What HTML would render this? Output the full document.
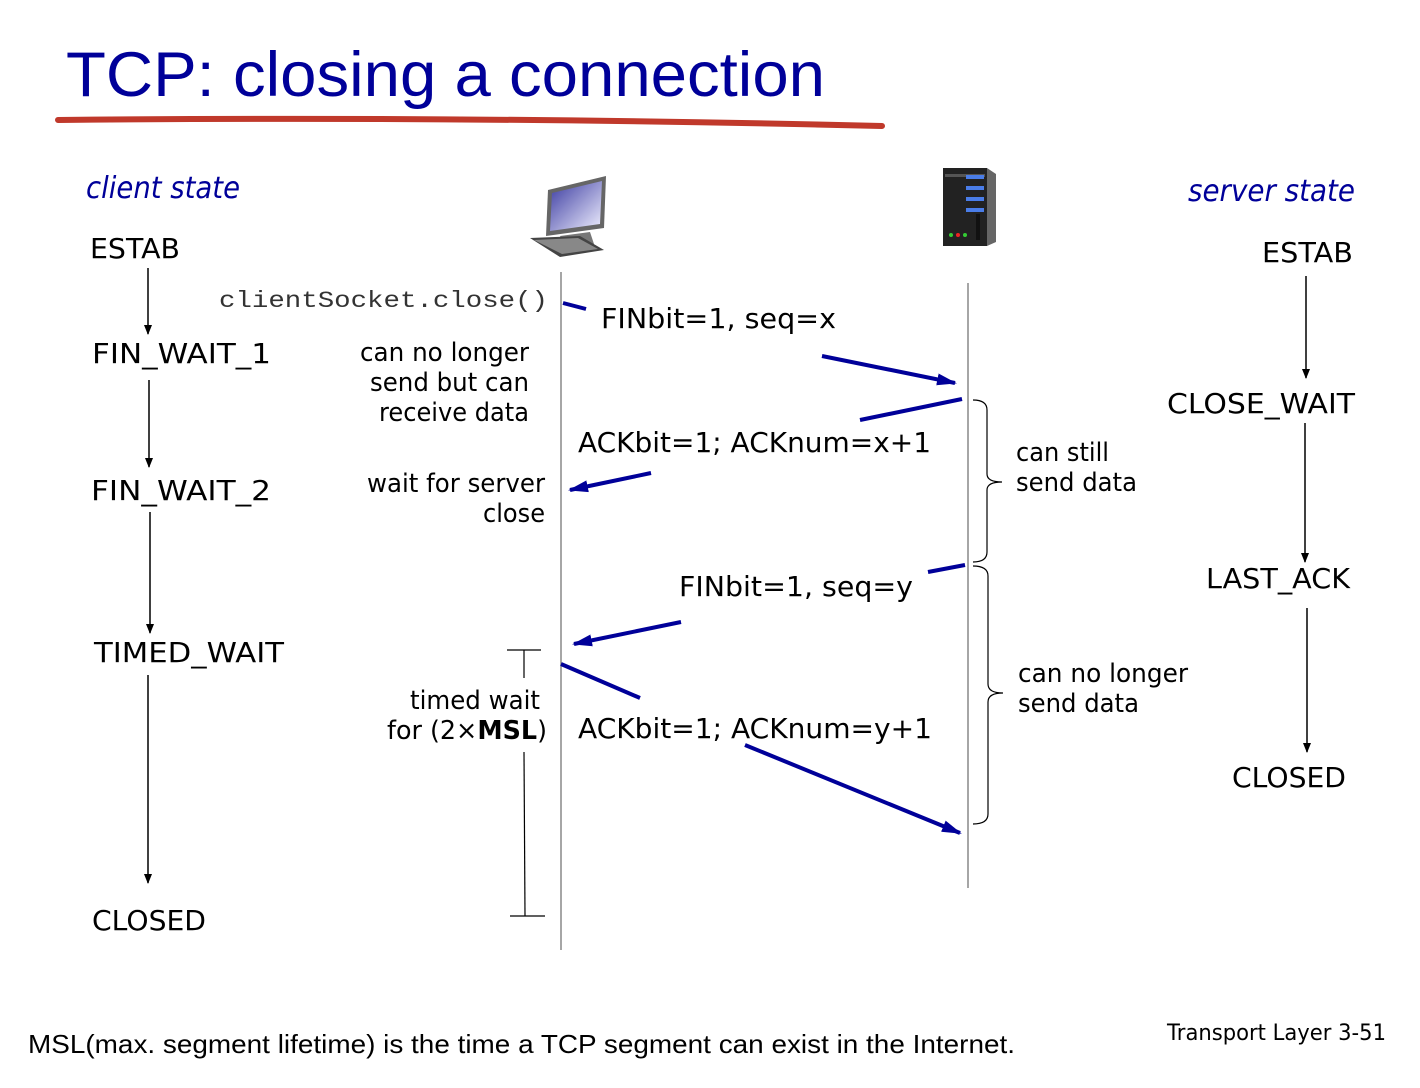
<!DOCTYPE html>
<html><head><meta charset="utf-8"><style>
html,body{margin:0;padding:0;background:#fff;}
svg{display:block;}
text{font-family:"DejaVu Sans","Liberation Sans",sans-serif;}
</style></head><body>
<svg width="1420" height="1088" viewBox="0 0 1420 1088" xmlns="http://www.w3.org/2000/svg">
<defs>
<marker id="ab" markerWidth="10" markerHeight="8" refX="9" refY="4" orient="auto" markerUnits="userSpaceOnUse"><path d="M0,0 L10,4 L0,8 z" fill="#000"/></marker>
<marker id="an" markerWidth="20" markerHeight="12" refX="18" refY="6" orient="auto" markerUnits="userSpaceOnUse"><path d="M0,0 L20,6 L0,12 z" fill="#000099"/></marker>
<linearGradient id="scr" x1="0" y1="0" x2="1" y2="1"><stop offset="0" stop-color="#3a3aa0"/><stop offset="1" stop-color="#f0f0ff"/></linearGradient>
</defs>
<text x="66" y="96" font-size="63" fill="#000099" textLength="759" lengthAdjust="spacingAndGlyphs" style="font-family:'Liberation Sans',sans-serif">TCP: closing a connection</text>
<path d="M58,120 Q470,116 882,126" stroke="#c0392b" stroke-width="6" fill="none" stroke-linecap="round"/>

<text x="86" y="198" font-size="30" fill="#000099" font-style="italic" textLength="154" lengthAdjust="spacingAndGlyphs">client state</text>
<text x="1188" y="201" font-size="30" fill="#000099" font-style="italic" textLength="167" lengthAdjust="spacingAndGlyphs">server state</text>

<g font-size="28" fill="#000" lengthAdjust="spacingAndGlyphs">
<text x="90" y="258" textLength="90" lengthAdjust="spacingAndGlyphs">ESTAB</text>
<text x="92" y="363" textLength="179" lengthAdjust="spacingAndGlyphs">FIN_WAIT_1</text>
<text x="91" y="500" textLength="180" lengthAdjust="spacingAndGlyphs">FIN_WAIT_2</text>
<text x="94" y="662" textLength="190" lengthAdjust="spacingAndGlyphs">TIMED_WAIT</text>
<text x="92" y="930" textLength="114" lengthAdjust="spacingAndGlyphs">CLOSED</text>
<text x="1262" y="262" textLength="91" lengthAdjust="spacingAndGlyphs">ESTAB</text>
<text x="1167" y="413" textLength="188" lengthAdjust="spacingAndGlyphs">CLOSE_WAIT</text>
<text x="1206" y="588" textLength="144" lengthAdjust="spacingAndGlyphs">LAST_ACK</text>
<text x="1232" y="787" textLength="114" lengthAdjust="spacingAndGlyphs">CLOSED</text>
</g>
<g stroke="#000" stroke-width="1.5" marker-end="url(#ab)">
<line x1="148" y1="268" x2="148" y2="334"/>
<line x1="149" y1="380" x2="149" y2="467"/>
<line x1="150" y1="512" x2="150" y2="633"/>
<line x1="148" y1="675" x2="148" y2="883"/>
<line x1="1306" y1="276" x2="1306" y2="378"/>
<line x1="1305" y1="423" x2="1305" y2="562"/>
<line x1="1307" y1="608" x2="1307" y2="752"/>
</g>

<!-- computer -->
<g>
<polygon points="548,190 606,176 604,228 546,236" fill="#666"/>
<polygon points="552,193 602,181 600,224 550,231" fill="url(#scr)"/>
<polygon points="560,236 590,232 594,244 566,248" fill="#777"/>
<polygon points="530,238 580,236 604,250 560,257" fill="#444"/>
<polygon points="534,240 578,238 598,249 562,254" fill="#888"/>
</g>
<!-- server -->
<g>
<rect x="943" y="168" width="44" height="78" fill="#222"/>
<polygon points="987,168 996,174 996,242 987,246" fill="#666"/>
<rect x="945" y="174" width="40" height="3" fill="#555"/>
<rect x="966" y="175" width="18" height="4" fill="#4a7de8"/>
<rect x="966" y="186" width="18" height="4" fill="#4a7de8"/>
<rect x="966" y="197" width="18" height="4" fill="#4a7de8"/>
<rect x="966" y="208" width="18" height="4" fill="#4a7de8"/>
<circle cx="951" cy="235" r="2" fill="#3c3"/><circle cx="958" cy="235" r="2" fill="#e22"/><circle cx="965" cy="235" r="2" fill="#3c3"/>
<rect x="976" y="214" width="4" height="26" fill="#111"/>
</g>

<line x1="561" y1="272" x2="561" y2="950" stroke="#888" stroke-width="1.5"/>
<line x1="968" y1="283" x2="968" y2="888" stroke="#888" stroke-width="1.5"/>

<text x="219" y="307" font-size="23" fill="#333" textLength="329" lengthAdjust="spacingAndGlyphs" style="font-family:'Liberation Mono',monospace">clientSocket.close()</text>

<g font-size="28" fill="#000">
<text x="601" y="328" textLength="235" lengthAdjust="spacingAndGlyphs">FINbit=1, seq=x</text>
<text x="578" y="452" textLength="353" lengthAdjust="spacingAndGlyphs">ACKbit=1; ACKnum=x+1</text>
<text x="679" y="596" textLength="234" lengthAdjust="spacingAndGlyphs">FINbit=1, seq=y</text>
<text x="578" y="738" textLength="354" lengthAdjust="spacingAndGlyphs">ACKbit=1; ACKnum=y+1</text>
</g>
<g font-size="26" fill="#000">
<text x="360" y="361" textLength="169" lengthAdjust="spacingAndGlyphs">can no longer</text>
<text x="370" y="391" textLength="159" lengthAdjust="spacingAndGlyphs">send but can</text>
<text x="379" y="421" textLength="150" lengthAdjust="spacingAndGlyphs">receive data</text>
<text x="367" y="492" textLength="178" lengthAdjust="spacingAndGlyphs">wait for server</text>
<text x="483" y="522" textLength="62" lengthAdjust="spacingAndGlyphs">close</text>
<text x="410" y="709" textLength="130" lengthAdjust="spacingAndGlyphs">timed wait</text>
<text x="387" y="739" textLength="160" lengthAdjust="spacingAndGlyphs">for (2×<tspan font-weight="bold">MSL</tspan>)</text>
<text x="1016" y="461" textLength="93" lengthAdjust="spacingAndGlyphs">can still</text>
<text x="1016" y="491" textLength="121" lengthAdjust="spacingAndGlyphs">send data</text>
<text x="1018" y="682" textLength="170" lengthAdjust="spacingAndGlyphs">can no longer</text>
<text x="1018" y="712" textLength="121" lengthAdjust="spacingAndGlyphs">send data</text>
</g>

<g stroke="#000099" stroke-width="4" fill="none">
<line x1="563" y1="303" x2="586" y2="309"/>
<line x1="822" y1="356" x2="955" y2="383" marker-end="url(#an)"/>
<line x1="962" y1="399" x2="860" y2="420"/>
<line x1="651" y1="473" x2="570" y2="490" marker-end="url(#an)"/>
<line x1="965" y1="565" x2="928" y2="572"/>
<line x1="681" y1="622" x2="574" y2="644" marker-end="url(#an)"/>
<line x1="561" y1="664" x2="640" y2="698"/>
<line x1="745" y1="745" x2="960" y2="833" marker-end="url(#an)"/>
</g>

<g stroke="#000" stroke-width="1.2" fill="none">
<line x1="507" y1="650" x2="541" y2="650"/>
<line x1="524" y1="650" x2="524" y2="678"/>
<line x1="524" y1="752" x2="525" y2="916"/>
<line x1="510" y1="916" x2="545" y2="916"/>
<path d="M973,400 Q987,400 987,410 L987,474 Q987,482 1002,482 Q987,482 987,490 L987,552 Q987,562 973,562"/>
<path d="M973,566 Q988,566 988,576 L988,684 Q988,693 1003,693 Q988,693 988,702 L988,814 Q988,824 973,824"/>
</g>

<text x="28" y="1053" font-size="26" fill="#000" textLength="987" lengthAdjust="spacingAndGlyphs" style="font-family:'Liberation Sans',sans-serif">MSL(max. segment lifetime) is the time a TCP segment can exist in the Internet.</text>
<text x="1167" y="1040" font-size="22" fill="#000" textLength="219" lengthAdjust="spacingAndGlyphs">Transport Layer 3-51</text>
</svg>
</body></html>
